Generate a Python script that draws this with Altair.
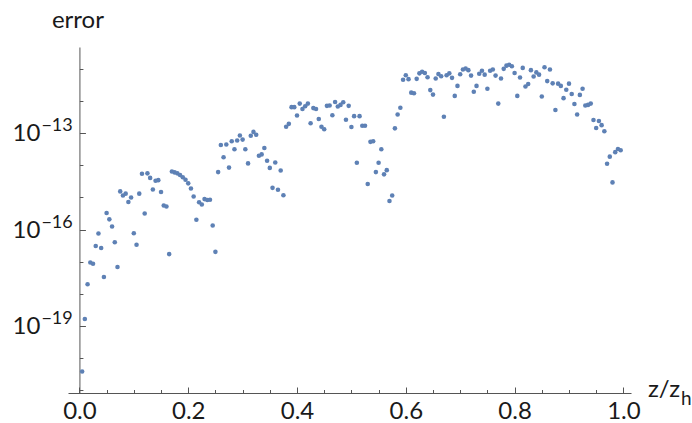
import altair as alt
import pandas as pd

# sample positions z/z_h
z_vals = [
    0.005, 0.010, 0.015, 0.020, 0.025, 0.030, 0.035, 0.040, 0.045, 0.050,
    0.055, 0.060, 0.065, 0.070, 0.075, 0.080, 0.085, 0.090, 0.095, 0.100,
    0.105, 0.110, 0.115, 0.120, 0.125, 0.130, 0.135, 0.140, 0.145, 0.150,
    0.155, 0.160, 0.165, 0.170, 0.175, 0.180, 0.185, 0.190, 0.195, 0.200,
    0.205, 0.210, 0.215, 0.220, 0.225, 0.230, 0.235, 0.240, 0.245, 0.250,
    0.255, 0.260, 0.265, 0.270, 0.275, 0.280, 0.285, 0.290, 0.295, 0.300,
    0.305, 0.310, 0.315, 0.320, 0.325, 0.330, 0.335, 0.340, 0.345, 0.350,
    0.355, 0.360, 0.365, 0.370, 0.375, 0.380, 0.385, 0.390, 0.395, 0.400,
    0.405, 0.410, 0.415, 0.420, 0.425, 0.430, 0.435, 0.440, 0.445, 0.450,
    0.455, 0.460, 0.465, 0.470, 0.475, 0.480, 0.485, 0.490, 0.495, 0.500,
    0.505, 0.510, 0.515, 0.520, 0.525, 0.530, 0.535, 0.540, 0.545, 0.550,
    0.555, 0.560, 0.565, 0.570, 0.575, 0.580, 0.585, 0.590, 0.595, 0.600,
    0.605, 0.610, 0.615, 0.620, 0.625, 0.630, 0.635, 0.640, 0.645, 0.650,
    0.655, 0.660, 0.665, 0.670, 0.675, 0.680, 0.685, 0.690, 0.695, 0.700,
    0.705, 0.710, 0.715, 0.720, 0.725, 0.730, 0.735, 0.740, 0.745, 0.750,
    0.755, 0.760, 0.765, 0.770, 0.775, 0.780, 0.785, 0.790, 0.795, 0.800,
    0.805, 0.810, 0.815, 0.820, 0.825, 0.830, 0.835, 0.840, 0.845, 0.850,
    0.855, 0.860, 0.865, 0.870, 0.875, 0.880, 0.885, 0.890, 0.895, 0.900,
    0.905, 0.910, 0.915, 0.920, 0.925, 0.930, 0.935, 0.940, 0.945, 0.950,
    0.955, 0.960, 0.965, 0.970, 0.975, 0.980, 0.985, 0.990, 0.995,
]

# log10 of the error at each sample
log_err = [
    -20.41, -18.78, -17.70, -17.02, -17.06, -16.51, -16.12, -16.57, -17.47, -15.48,
    -15.68, -15.90, -16.39, -17.16, -14.81, -14.94, -14.88, -15.14, -15.00, -16.11,
    -16.47, -14.88, -14.26, -15.50, -14.25, -14.39, -14.75, -14.48, -14.46, -14.83,
    -15.25, -15.28, -16.76, -14.19, -14.22, -14.25, -14.30, -14.37, -14.45, -14.56,
    -14.72, -14.97, -15.69, -15.15, -15.22, -15.05, -15.08, -15.07, -15.87, -16.69,
    -14.21, -13.37, -13.75, -13.35, -14.07, -13.25, -13.50, -13.23, -13.07, -13.20,
    -13.50, -13.94, -13.08, -12.96, -13.05, -13.70, -13.66, -13.46, -13.86, -14.08,
    -14.70, -13.91, -14.76, -14.16, -14.93, -12.80, -12.71, -12.19, -12.19, -12.45,
    -12.08, -12.25, -12.16, -12.08, -12.69, -12.22, -12.25, -12.56, -12.80, -12.88,
    -12.15, -12.14, -12.44, -12.03, -12.17, -12.12, -12.04, -12.58, -12.15, -12.81,
    -12.47, -13.92, -12.47, -12.77, -12.77, -14.58, -13.27, -13.25, -14.21, -13.92,
    -13.50, -14.28, -14.15, -15.11, -14.94, -12.85, -12.42, -12.21, -11.34, -11.20,
    -11.32, -11.74, -11.76, -11.31, -11.14, -11.09, -11.13, -11.26, -11.66, -11.80,
    -11.30, -11.16, -11.23, -12.49, -11.20, -11.14, -11.28, -11.84, -11.53, -11.17,
    -11.02, -10.99, -11.04, -11.21, -11.71, -11.53, -11.15, -11.06, -11.18, -11.62,
    -11.06, -11.02, -11.21, -12.08, -11.30, -11.00, -10.90, -10.87, -10.92, -11.13,
    -11.84, -11.27, -10.97, -11.55, -11.47, -11.04, -11.24, -11.11, -11.18, -11.86,
    -10.95, -11.38, -11.02, -11.45, -12.28, -11.46, -11.53, -11.91, -11.65, -11.46,
    -11.78, -12.09, -12.42, -11.81, -11.62, -12.14, -12.12, -12.08, -12.59, -12.84,
    -12.62, -12.75, -12.94, -13.95, -13.73, -14.53, -13.59, -13.49, -13.53,
]

# axis ticks
x_major = [0.0, 0.2, 0.4, 0.6, 0.8, 1.0]
x_minor = [0.05, 0.1, 0.15, 0.25, 0.3, 0.35, 0.45, 0.5, 0.55,
           0.65, 0.7, 0.75, 0.85, 0.9, 0.95]
y_major_exp = [-19, -16, -13]
y_minor_exp = [-21, -20, -18, -17, -15, -14, -12, -11]
y_labels = ["\u221219", "\u221216", "\u221213"]

BLUE = "#5E81B5"
AXIS = "#555555"
TEXT = "#1a1a1a"
FONT = "Lato"

W, H = 563, 346
X_MIN, X_MAX = -0.021, 1.014
Y_LO, Y_HI = -21.08, -10.32
y0_px = W * (0 - X_MIN) / (X_MAX - X_MIN)  # pixel position of z = 0

df = pd.DataFrame({"z": z_vals, "err": [10.0 ** e for e in log_err]})

xs = alt.Scale(domain=[X_MIN, X_MAX], nice=False, zero=False)
ys = alt.Scale(type="log", domain=[10.0 ** Y_LO, 10.0 ** Y_HI], nice=False)

# points + x labels + both axis lines
points = alt.Chart(df).mark_circle(size=21, color=BLUE, opacity=1).encode(
    x=alt.X("z:Q", scale=xs, axis=alt.Axis(
        orient="bottom", values=x_major, format=".1f", ticks=False, tickSize=0,
        labelPadding=6, labelFontSize=24, labelFont=FONT, labelColor=TEXT,
        labelFlush=False, domain=True, domainColor=AXIS, domainWidth=1,
        grid=False, title=None)),
    y=alt.Y("err:Q", scale=ys, axis=alt.Axis(
        orient="left", offset=-y0_px, labels=False, ticks=False, tickSize=0,
        domain=True, domainColor=AXIS, domainWidth=1, grid=False, title=None)),
)


def tick_layer(xvals, yvals, size):
    # inward-pointing ticks on the x axis (bottom) and on the y axis at z = 0
    return alt.Chart(df).mark_circle(opacity=0).encode(
        x=alt.X("z:Q", scale=xs, axis=alt.Axis(
            orient="top", offset=-H, values=xvals, tickSize=size, tickColor=AXIS,
            tickWidth=1, labels=False, domain=False, grid=False, title=None)),
        y=alt.Y("err:Q", scale=ys, axis=alt.Axis(
            orient="right", offset=-(W - y0_px), values=yvals, tickSize=size,
            tickColor=AXIS, tickWidth=1, labels=False, domain=False, grid=False,
            title=None)),
    )


major_ticks = tick_layer(x_major, [10.0 ** e for e in y_major_exp], 6)
minor_ticks = tick_layer(x_minor, [10.0 ** e for e in y_minor_exp], 3.5)

# y tick labels written as 10 with a superscript exponent
ylab = pd.DataFrame({
    "z": [0.0] * len(y_major_exp),
    "err": [10.0 ** e for e in y_major_exp],
    "sup": y_labels,
})
ten = alt.Chart(ylab).mark_text(
    text="10", align="right", baseline="middle", dx=-39, dy=1,
    fontSize=24, font=FONT, color=TEXT,
).encode(
    x=alt.X("z:Q", scale=xs, axis=None),
    y=alt.Y("err:Q", scale=ys, axis=None),
)
sup = alt.Chart(ylab).mark_text(
    align="left", baseline="middle", dx=-38, dy=-7,
    fontSize=18, font=FONT, color=TEXT,
).encode(
    x=alt.X("z:Q", scale=xs, axis=None),
    y=alt.Y("err:Q", scale=ys, axis=None),
    text="sup:N",
)

# axis titles
lab = pd.DataFrame({"t": ["error"]})
y_title = alt.Chart(lab).mark_text(
    align="center", baseline="middle", fontSize=24, font=FONT, color=TEXT,
).encode(x=alt.value(y0_px - 1.5), y=alt.value(-26), text="t:N")

x_title = alt.Chart(pd.DataFrame({"t": ["z/z"]})).mark_text(
    align="left", baseline="alphabetic", fontSize=24, font=FONT, color=TEXT,
).encode(x=alt.value(580), y=alt.value(350), text="t:N")
x_sub = alt.Chart(pd.DataFrame({"t": ["h"]})).mark_text(
    align="left", baseline="alphabetic", fontSize=19, font=FONT, color=TEXT,
).encode(x=alt.value(613), y=alt.value(358), text="t:N")

chart = alt.layer(
    points, major_ticks, minor_ticks, ten, sup, y_title, x_title, x_sub,
).resolve_axis(
    x="independent", y="independent",
).properties(
    width=W, height=H,
    autosize=alt.AutoSizeParams(type="none"),
    padding={"left": 68, "top": 47, "right": 692 - 68 - W, "bottom": 423 - 47 - H},
    background="white",
).configure_view(stroke=None)

chart.save("out.html", embed_options={"renderer": "svg", "actions": False})
